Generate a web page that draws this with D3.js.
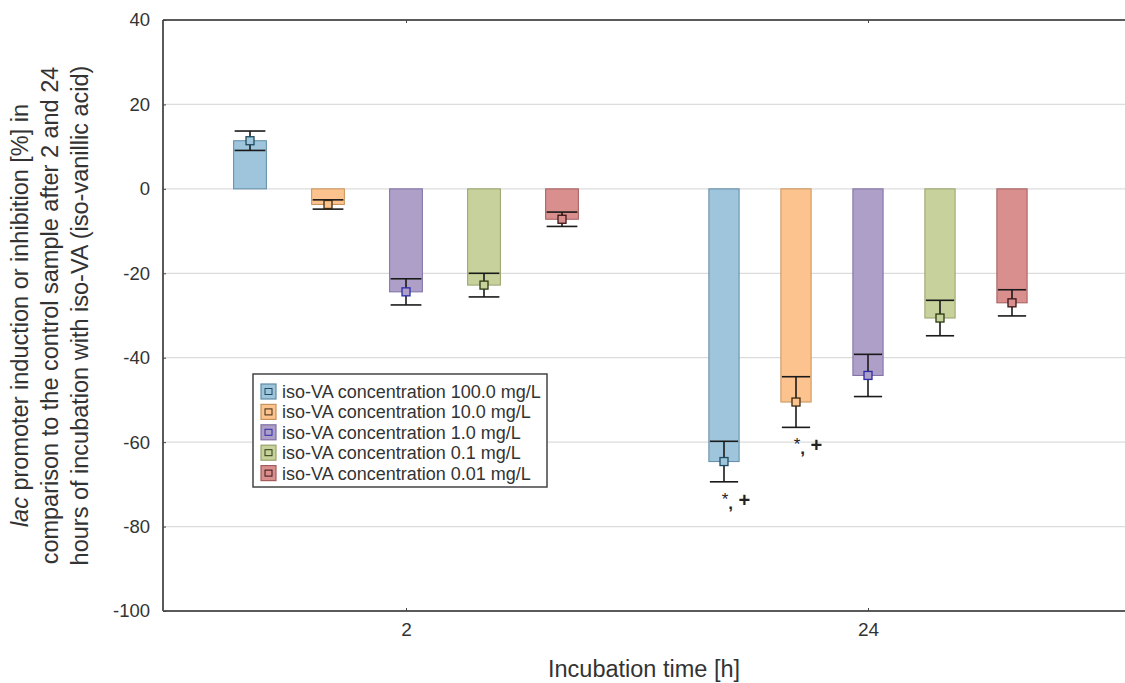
<!DOCTYPE html>
<html>
<head>
<meta charset="utf-8">
<script src="https://cdn.jsdelivr.net/npm/d3@7/dist/d3.min.js"></script>
<style>
  html, body { margin: 0; padding: 0; background: #fff; }
  svg { display: block; font-family: "Liberation Sans", Arial, sans-serif; }
</style>
</head>
<body>
<svg id="chart" width="1125" height="683"></svg>
<script>
// Incubation times (x categories)
const groups = ["2", "24"];

// iso-VA concentrations (series)
const series = [
  "iso-VA concentration 100.0 mg/L",
  "iso-VA concentration 10.0 mg/L",
  "iso-VA concentration 1.0 mg/L",
  "iso-VA concentration 0.1 mg/L",
  "iso-VA concentration 0.01 mg/L"
];

// Mean induction / inhibition [%] and standard deviation per time point
const means2h  = [11.4, -3.7, -24.4, -22.8, -7.2];
const sd2h     = [2.3, 1.1, 3.1, 2.8, 1.7];
const means24h = [-64.6, -50.5, -44.2, -30.6, -27.0];
const sd24h    = [4.8, 6.0, 5.0, 4.2, 3.1];

// Y axis ticks
const yTicks = [-100, -80, -60, -40, -20, 0, 20, 40];

// Significance marks below selected bars
const marks = [
  { group: "24", series: 0 },
  { group: "24", series: 1 }
];

// Series colours
const fills   = ["#9ec5dc", "#fcc38f", "#ad9fc8", "#c7d19b", "#d88f8e"];
const strokes = ["#5f8ba6", "#c99257", "#7e6fa3", "#98a26b", "#a35d5c"];
const markerColors = ["#1f4b5e", "#3a2a12", "#2c2ca8", "#2b3a10", "#3a1515"];

const meansByGroup = [means2h, means24h];
const sdByGroup = [sd2h, sd24h];
const data = [];
groups.forEach((g, gi) => {
  series.forEach((s, si) => {
    data.push({ group: g, gi, series: s, si, mean: meansByGroup[gi][si], sd: sdByGroup[gi][si] });
  });
});

const svg = d3.select("#chart");
const W = 1125, H = 683;
const margin = { left: 163, top: 20, bottom: 72 };
const plotH = H - margin.top - margin.bottom;
const plotW = 948;

const g = svg.append("g").attr("transform", `translate(${margin.left},${margin.top})`);

const y = d3.scaleLinear().domain([-100, 40]).range([plotH, 0]);
const x = d3.scalePoint().domain(groups).range([0, plotW]).padding(0.526);

// each time point gets its own cluster width
const clusterWidth = [390, 360];
const inner = groups.map((gr, gi) =>
  d3.scaleBand().domain(series)
    .range([-clusterWidth[gi] / 2, clusterWidth[gi] / 2])
    .paddingInner(0.58).paddingOuter(0.29)
);
const cx = d => x(d.group) + inner[d.gi](d.series) + inner[d.gi].bandwidth() / 2;

// grid lines
g.append("g").selectAll("line")
  .data(yTicks.filter(t => t > -100 && t < 40))
  .join("line")
  .attr("x1", 0).attr("x2", W - margin.left)
  .attr("y1", d => y(d)).attr("y2", d => y(d))
  .attr("stroke", "#dcdcdc").attr("stroke-width", 1.2);

// bars
g.append("g").selectAll("rect")
  .data(data)
  .join("rect")
  .attr("x", d => x(d.group) + inner[d.gi](d.series))
  .attr("width", d => inner[d.gi].bandwidth())
  .attr("y", d => y(Math.max(0, d.mean)))
  .attr("height", d => Math.abs(y(d.mean) - y(0)))
  .attr("fill", d => fills[d.si])
  .attr("stroke", d => strokes[d.si])
  .attr("stroke-width", 1);

// error bars
const eb = g.append("g").attr("stroke", "#1a1a1a").attr("stroke-width", 1.6);
eb.selectAll("line.v").data(data).join("line").attr("class", "v")
  .attr("x1", cx).attr("x2", cx)
  .attr("y1", d => y(d.mean + d.sd)).attr("y2", d => y(d.mean - d.sd));
["hi", "lo"].forEach(k => {
  eb.selectAll("line." + k).data(data).join("line").attr("class", k)
    .attr("x1", d => cx(d) - inner[d.gi].bandwidth() / 2 + 1)
    .attr("x2", d => cx(d) + inner[d.gi].bandwidth() / 2 - 1)
    .attr("y1", d => y(k === "hi" ? d.mean + d.sd : d.mean - d.sd))
    .attr("y2", d => y(k === "hi" ? d.mean + d.sd : d.mean - d.sd));
});

// mean markers
g.append("g").selectAll("rect")
  .data(data)
  .join("rect")
  .attr("x", d => cx(d) - 4).attr("y", d => y(d.mean) - 4)
  .attr("width", 8).attr("height", 8)
  .attr("fill", d => fills[d.si])
  .attr("stroke", d => markerColors[d.si])
  .attr("stroke-width", 1.3);

// significance marks: "*, +"
const sig = g.append("g").selectAll("text")
  .data(marks)
  .join("text")
  .attr("x", m => {
    const d = data.find(e => e.group === m.group && e.si === m.series);
    return cx(d) + 12;
  })
  .attr("y", m => {
    const d = data.find(e => e.group === m.group && e.si === m.series);
    return y(d.mean - d.sd) + 25;
  })
  .attr("text-anchor", "middle")
  .attr("fill", "#222");
sig.append("tspan").attr("font-size", 17).attr("dy", -2).text("*");
sig.append("tspan").attr("font-size", 17).attr("font-weight", "bold").attr("dy", 4).text(",");
sig.append("tspan").attr("font-size", 20).attr("font-weight", "bold").attr("dy", -2).text(" +");

// frame
const frame = g.append("g").attr("stroke", "#5a5a5a").attr("stroke-width", 2).attr("fill", "none");
frame.append("line").attr("x1", 0).attr("x2", W - margin.left).attr("y1", 0).attr("y2", 0);
frame.append("line").attr("x1", 0).attr("x2", W - margin.left).attr("y1", plotH).attr("y2", plotH);
frame.append("line").attr("x1", 0).attr("x2", 0).attr("y1", 0).attr("y2", plotH);

// y axis
const yAxis = d3.axisLeft(y).tickValues(yTicks).tickFormat(d => String(d))
  .tickSizeInner(-3).tickSizeOuter(0).tickPadding(13);
const ya = g.append("g").call(yAxis);
ya.select(".domain").remove();
ya.selectAll(".tick line").attr("stroke", "#444");
ya.selectAll("text").attr("font-size", 18.5).attr("fill", "#333").attr("font-family", "Liberation Sans, Arial, sans-serif");

// x axis (bottom) and ticks on top
const xAxis = d3.axisBottom(x).tickSizeInner(-3).tickSizeOuter(0).tickPadding(12);
const xa = g.append("g").attr("transform", `translate(0,${plotH})`).call(xAxis);
xa.select(".domain").remove();
xa.selectAll(".tick line").attr("stroke", "#444");
xa.selectAll("text").attr("font-size", 19).attr("fill", "#333").attr("font-family", "Liberation Sans, Arial, sans-serif");
const xt = g.append("g").call(d3.axisTop(x).tickSizeInner(-3).tickSizeOuter(0).tickFormat(""));
xt.select(".domain").remove();
xt.selectAll(".tick line").attr("stroke", "#444");

// axis titles
svg.append("text")
  .attr("x", (margin.left + W) / 2).attr("y", 677)
  .attr("text-anchor", "middle").attr("font-size", 23.5).attr("fill", "#333")
  .text("Incubation time [h]");

const yTitle = svg.append("text")
  .attr("transform", `translate(0,${margin.top + plotH / 2}) rotate(-90)`)
  .attr("text-anchor", "middle").attr("font-size", 23.5).attr("fill", "#333");
const l1 = yTitle.append("tspan").attr("x", 0).attr("y", 28);
l1.append("tspan").attr("font-style", "italic").text("lac");
l1.append("tspan").text(" promoter induction or inhibition [%] in");
yTitle.append("tspan").attr("x", 0).attr("y", 58).text("comparison to the control sample after 2 and 24");
yTitle.append("tspan").attr("x", 0).attr("y", 88).text("hours of incubation with iso-VA (iso-vanillic acid)");

// legend
const lg = svg.append("g").attr("transform", "translate(253,374)");
lg.append("rect").attr("width", 294).attr("height", 113)
  .attr("fill", "#fff").attr("stroke", "#444").attr("stroke-width", 1.5);
const rows = lg.selectAll("g.row").data(series).join("g").attr("class", "row")
  .attr("transform", (d, i) => `translate(0,${17.5 + i * 20.4})`);
rows.append("rect").attr("x", 8).attr("y", -7.5).attr("width", 15).attr("height", 15)
  .attr("fill", (d, i) => fills[i]).attr("stroke", (d, i) => strokes[i]).attr("stroke-width", 1.2);
rows.append("rect").attr("x", 12).attr("y", -3).attr("width", 7).attr("height", 6)
  .attr("fill", "none").attr("stroke", (d, i) => markerColors[i]).attr("stroke-width", 1);
rows.append("text").attr("x", 29).attr("y", 6.5)
  .attr("font-size", 18).attr("fill", "#333")
  .text(d => d);
</script>
</body>
</html>
